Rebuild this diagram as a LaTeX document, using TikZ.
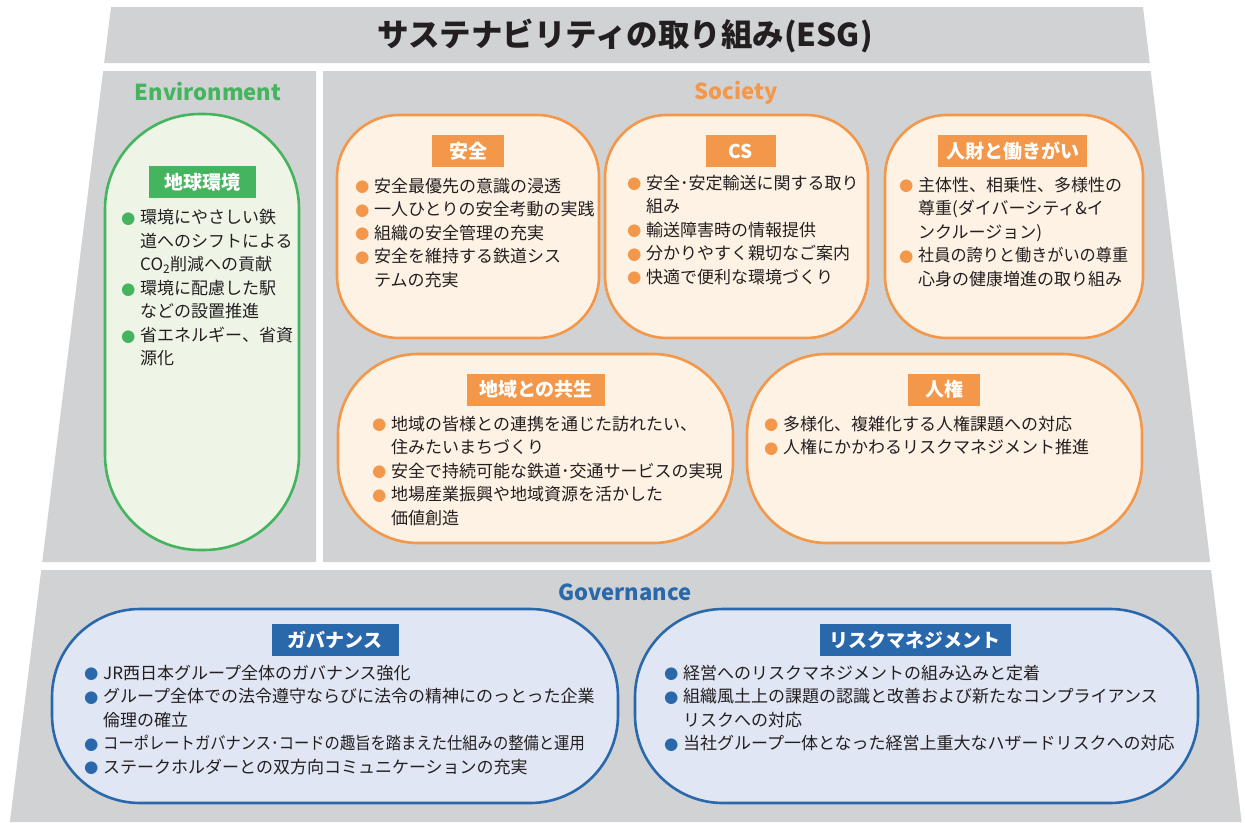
\documentclass[tikz,border=0pt]{standalone}
\usepackage{fontspec}
\usepackage{graphicx}
\setmainfont{Noto Sans CJK JP}
\newfontfamily\dotfont{DejaVu Sans}
\usetikzlibrary{calc}
\definecolor{bandgray}{HTML}{D1D2D4}
\definecolor{envgreen}{HTML}{45B45E}
\definecolor{envfill}{HTML}{EEF5E7}
\definecolor{socorange}{HTML}{F3974A}
\definecolor{socfill}{HTML}{FEF2E4}
\definecolor{govblue}{HTML}{2A68AC}
\definecolor{govfill}{HTML}{E0E6F3}
\definecolor{inktext}{HTML}{231F20}
\newcommand\bul[1]{\makebox[18pt][l]{\hspace*{-1pt}\textcolor{#1}{\dotfont\fontsize{16.5}{16.5}\selectfont\raisebox{0.3pt}{●}}}}
\newcommand\ind{\hspace*{18pt}}
\begin{document}
\begin{tikzpicture}[x=1pt,y=-1pt,
  band/.style={fill=bandgray, draw=none},
  cardbox/.style={line width=2.6pt, inner sep=0pt},
  envcard/.style={cardbox, draw=envgreen, fill=envfill},
  soccard/.style={cardbox, draw=socorange, fill=socfill},
  govcard/.style={cardbox, draw=govblue, fill=govfill},
  tag/.style={text=white, font=\fontsize{19}{19}\selectfont\bfseries, minimum height=32pt, inner sep=0pt},
  envtag/.style={tag, fill=envgreen},
  soctag/.style={tag, fill=socorange},
  govtag/.style={tag, fill=govblue},
  body/.style={anchor=north west, inner sep=0pt, align=left, text=inktext, font=\fontsize{17}{23.5}\selectfont},
  head/.style={font=\fontsize{22}{22}\selectfont\bfseries, inner sep=0pt}
]
\useasboundingbox (0,0) rectangle (1245,822);
% background bands
\fill[band] (111,7) -- (1143,7) -- (1149.8,63) -- (104.1,63) -- cycle;
\fill[band] (103.1,71) -- (316,71) -- (316,562) -- (42.2,562) -- cycle;
\fill[band] (323,71) -- (1150.7,71) -- (1210.2,562) -- (323,562) -- cycle;
\fill[band] (41.2,570) -- (1211.1,570) -- (1241.6,822) -- (9.9,822) -- cycle;

% title and headings
\node[font=\fontsize{31.5}{31.5}\selectfont\bfseries, text=inktext, inner sep=0pt] (title) at (625,36) {サステナビリティの取り組み(ESG)};
\node[head, text=envgreen] (envhead) at (208,92) {Environment};
\node[head, text=socorange] (sochead) at (736,93) {Society};
\node[head, text=govblue] (govhead) at (625,592) {Governance};

% Environment card
\node[envcard, minimum width=194pt, minimum height=436pt, rounded corners=95pt] (env) at (202,332) {};
\node[envtag, minimum width=107pt] (envtag) at (202.5,182) {地球環境};
\node[body] (envtext) at (122,209.5) {\bul{envgreen}環境にやさしい鉄\\
\ind 道へのシフトによる\\
\ind CO\textsubscript{2}削減への貢献\\
\bul{envgreen}環境に配慮した駅\\
\ind などの設置推進\\
\bul{envgreen}省エネルギー、省資\\
\ind 源化};

% Society cards
\node[soccard, minimum width=262pt, minimum height=223pt, rounded corners=62pt] (safety) at (468,226.5) {};
\node[soctag, minimum width=72pt] (safetytag) at (468,151) {安全};
\node[body] (safetytext) at (356,177.5) {\bul{socorange}安全最優先の意識の浸透\\
\bul{socorange}一人ひとりの安全考動の実践\\
\bul{socorange}組織の安全管理の充実\\
\bul{socorange}安全を維持する鉄道シス\\
\ind テムの充実};

\node[soccard, minimum width=263pt, minimum height=223pt, rounded corners=62pt] (cs) at (736.5,226.5) {};
\node[soctag, minimum width=70pt] (cstag) at (741,151) {CS};
\node[body] (cstext) at (628,174.5) {\bul{socorange}安全･安定輸送に関する取り\\
\ind 組み\\
\bul{socorange}輸送障害時の情報提供\\
\bul{socorange}分かりやすく親切なご案内\\
\bul{socorange}快適で便利な環境づくり};

\node[soccard, minimum width=258pt, minimum height=223pt, rounded corners=62pt] (hr) at (1014,226.5) {};
\node[soctag, minimum width=149pt] (hrtag) at (1012.5,151) {人財と働きがい};
\node[body] (hrtext) at (900,176.5) {\bul{socorange}主体性、相乗性、多様性の\\
\ind 尊重(ダイバーシティ\&イ\\
\ind ンクルージョン)\\
\bul{socorange}\scalebox{0.95}[1]{社員の誇りと働きがいの尊重}\\
\ind 心身の健康増進の取り組み};

\node[soccard, minimum width=395pt, minimum height=189pt, rounded corners=80pt] (region) at (535.5,448.5) {};
\node[soctag, minimum width=138pt] (regiontag) at (536,389.5) {地域との共生};
\node[body] (regiontext) at (373,415.5) {\bul{socorange}地域の皆様との連携を通じた訪れたい、\\
\ind 住みたいまちづくり\\
\bul{socorange}安全で持続可能な鉄道･交通サービスの実現\\
\bul{socorange}地場産業振興や地域資源を活かした\\
\ind 価値創造};

\node[soccard, minimum width=395pt, minimum height=189pt, rounded corners=80pt] (rights) at (944.5,448.5) {};
\node[soctag, minimum width=72pt] (rightstag) at (944,389.5) {人権};
\node[body] (rightstext) at (765,415.5) {\bul{socorange}多様化、複雑化する人権課題への対応\\
\bul{socorange}人権にかかわるリスクマネジメント推進};

% Governance cards
\node[govcard, minimum width=566pt, minimum height=194pt, rounded corners=88pt] (gov) at (335,706) {};
\node[govtag, minimum width=127pt] (govtag) at (335,640) {ガバナンス};
\node[body] (govtext) at (85,664.5) {\bul{govblue}JR西日本グループ全体のガバナンス強化\\
\bul{govblue}グループ全体での法令遵守ならびに法令の精神にのっとった企業\\
\ind 倫理の確立\\
\bul{govblue}\scalebox{0.9}[1]{コーポレートガバナンス･コードの趣旨を踏まえた仕組みの整備と運用}\\
\bul{govblue}ステークホルダーとの双方向コミュニケーションの充実};

\node[govcard, minimum width=563pt, minimum height=194pt, rounded corners=88pt] (risk) at (916.5,706) {};
\node[govtag, minimum width=191pt] (risktag) at (915,640) {リスクマネジメント};
\node[body] (risktext) at (665,664.5) {\bul{govblue}経営へのリスクマネジメントの組み込みと定着\\
\bul{govblue}組織風土上の課題の認識と改善および新たなコンプライアンス\\
\ind リスクへの対応\\
\bul{govblue}当社グループ一体となった経営上重大なハザードリスクへの対応};
\end{tikzpicture}
\end{document}
